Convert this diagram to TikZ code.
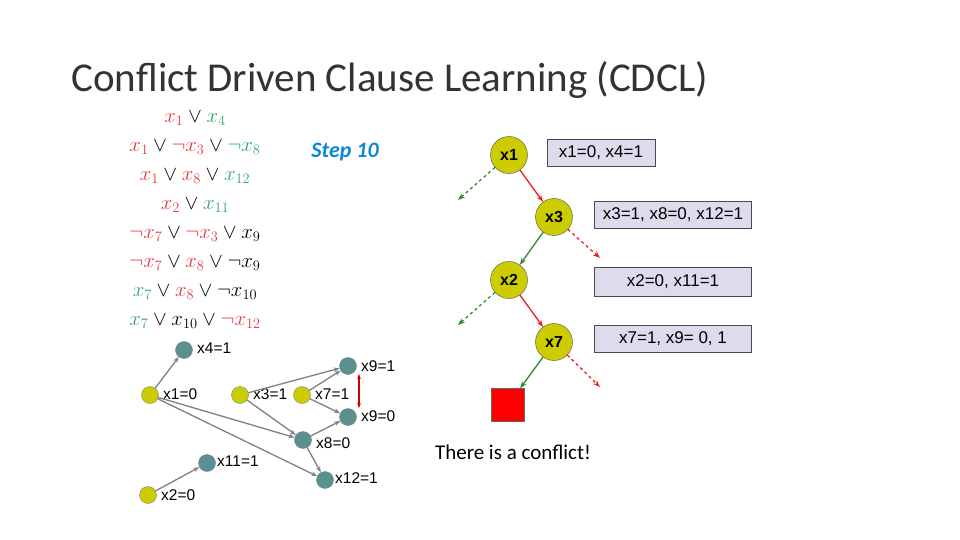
\documentclass[tikz,border=0pt]{standalone}
\usepackage{fontspec}
\setmainfont{Carlito}
\newfontfamily\arial{Liberation Sans}
\usetikzlibrary{arrows.meta}
\definecolor{cred}{HTML}{E8383D}
\definecolor{cgreen}{HTML}{2EA86A}
\definecolor{ylw}{HTML}{CCCC00}
\definecolor{teal2}{HTML}{5A9090}
\definecolor{tgreen}{HTML}{2E8B2E}
\definecolor{tred}{HTML}{E82020}
\definecolor{boxfill}{HTML}{DCDCEC}
\begin{document}
\begin{tikzpicture}[x=1pt,y=-1pt,
 tn/.style={circle,draw=black!70,fill=ylw,minimum size=37pt,inner sep=0pt,font=\arial\bfseries\fontsize{16}{16}\selectfont},
 bx/.style={draw=black!70,fill=boxfill,minimum height=27pt,inner sep=0pt,font=\arial\fontsize{17}{17}\selectfont},
 gy/.style={circle,draw=black!50,fill=ylw,minimum size=17pt,inner sep=0pt},
 gt/.style={circle,draw=black!50,fill=teal2,minimum size=17pt,inner sep=0pt},
 lb/.style={anchor=west,inner sep=1pt,font=\arial\fontsize{15.5}{15.5}\selectfont},
 ge/.style={draw=gray,line width=1.3pt,-{Stealth[length=6pt]}},
 cl/.style={inner sep=0pt,font=\fontsize{22}{22}\selectfont}]
\useasboundingbox (0,0) rectangle (960,540);
\node[anchor=west,font=\fontsize{41}{41}\selectfont,text=black!80] (title) at (68,80) {Conflict Driven Clause Learning (CDCL)};
% clauses
\node[cl] (c1) at (195,118) {$\color{cred}x_1\color{black}\vee\color{cgreen}x_4$};
\node[cl] (c2) at (195,147) {$\color{cred}x_1\color{black}\vee\color{cred}\neg x_3\color{black}\vee\color{cgreen}\neg x_8$};
\node[cl] (c3) at (195,176) {$\color{cred}x_1\color{black}\vee\color{cred}x_8\color{black}\vee\color{cgreen}x_{12}$};
\node[cl] (c4) at (195,205) {$\color{cred}x_2\color{black}\vee\color{cgreen}x_{11}$};
\node[cl] (c5) at (195,234) {$\color{cred}\neg x_7\color{black}\vee\color{cred}\neg x_3\color{black}\vee x_9$};
\node[cl] (c6) at (195,263) {$\color{cred}\neg x_7\color{black}\vee\color{cred}x_8\color{black}\vee\neg x_9$};
\node[cl] (c7) at (195,292) {$\color{cgreen}x_7\color{black}\vee\color{cred}x_8\color{black}\vee\neg x_{10}$};
\node[cl] (c8) at (195,321) {$\color{cgreen}x_7\color{black}\vee x_{10}\vee\color{cred}\neg x_{12}$};
\node[font=\bfseries\itshape\fontsize{22}{22}\selectfont,text=cyan!70!blue] (step) at (345,152) {Step 10};
% tree
\node[tn] (t1) at (509,155) {x1};
\node[tn] (t3) at (554,217) {x3};
\node[tn] (t2) at (509,280) {x2};
\node[tn] (t7) at (554,342) {x7};
\node[draw=black!60,fill=red,minimum size=33pt,inner sep=0pt] (sq) at (508,405) {};
\coordinate (d1) at (458,200);
\coordinate (d3) at (600,258);
\coordinate (d2) at (458,325);
\coordinate (d7) at (600,387);
\draw[tred,line width=1.3pt,-{Stealth[length=7pt]}] (t1) -- (t3);
\draw[tred,line width=1.3pt,-{Stealth[length=7pt]}] (t2) -- (t7);
\draw[tgreen,line width=1.3pt,-{Stealth[length=7pt]}] (t3) -- (t2);
\draw[tgreen,line width=1.3pt,-{Stealth[length=7pt]}] (t7) -- (sq);
\draw[tgreen,line width=1.3pt,dashed,-{Stealth[length=7pt]}] (t1) -- (d1);
\draw[tgreen,line width=1.3pt,dashed,-{Stealth[length=7pt]}] (t2) -- (d2);
\draw[tred,line width=1.3pt,dashed,-{Stealth[length=7pt]}] (t3) -- (d3);
\draw[tred,line width=1.3pt,dashed,-{Stealth[length=7pt]}] (t7) -- (d7);
\node[bx,minimum width=108pt] (b1) at (601,153) {x1=0, x4=1};
\node[bx,minimum width=157pt] (b2) at (673,215) {x3=1, x8=0, x12=1};
\node[bx,minimum width=157pt,minimum height=29pt] (b3) at (673,282) {x2=0, x11=1};
\node[bx,minimum width=157pt] (b4) at (673,339) {x7=1, x9= 0, 1};
\node[font=\fontsize{21}{21}\selectfont] (conf) at (513,452) {There is a conflict!};
% implication graph
\node[gt] (g4) at (184,350) {};
\node[gy] (g1) at (150,395) {};
\node[gy] (g3) at (240,395) {};
\node[gy] (g7) at (302,395) {};
\node[gt] (g91) at (348,366) {};
\node[gt] (g90) at (348,417) {};
\node[gt] (g8) at (303,440) {};
\node[gt] (g11) at (207,463) {};
\node[gt] (g12) at (325,480) {};
\node[gy] (g2) at (148,495) {};
\node[lb] at (196,348) {x4=1};
\node[lb] at (162,394) {x1=0};
\node[lb] at (252,394) {x3=1};
\node[lb] at (314,394) {x7=1};
\node[lb] at (360,366) {x9=1};
\node[lb] at (360,416) {x9=0};
\node[lb] at (315,443) {x8=0};
\node[lb] at (216,461) {x11=1};
\node[lb] at (334,478) {x12=1};
\node[lb] at (160,495) {x2=0};
\draw[ge] (g1) -- (g4);
\draw[ge] (g1) -- (g8);
\draw[ge] (g1) -- (g12);
\draw[ge] (g3) -- (g91);
\draw[ge] (g3) -- (g8);
\draw[ge] (g7) -- (g91);
\draw[ge] (g7) -- (g90);
\draw[ge] (g8) -- (g90);
\draw[ge] (g8) -- (g12);
\draw[ge] (g2) -- (g11);
\coordinate (r1) at (359,374);
\coordinate (r2) at (359,408);
\draw[red!80!black,line width=1.5pt,{Stealth[length=5pt]}-{Stealth[length=5pt]}] (r1) -- (r2);
\end{tikzpicture}
\end{document}
